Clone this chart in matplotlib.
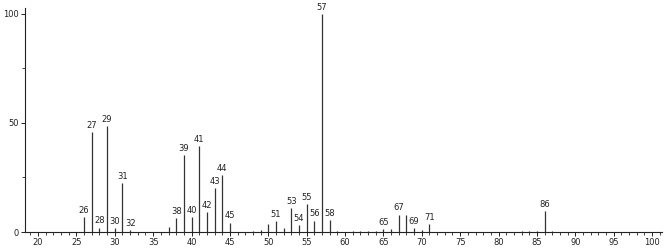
import matplotlib.pyplot as plt
from matplotlib.ticker import MultipleLocator

# m/z values and relative intensities
mz = [26, 27, 28, 29, 30, 31, 32, 37, 38, 39, 40, 41, 42, 43, 44, 45,
      48, 49, 50, 51, 52, 53, 54, 55, 56, 57, 58, 59, 61, 62, 63, 64,
      65, 66, 67, 68, 69, 70, 71, 83, 84, 85, 86, 87]
intensity = [6.7, 45.7, 2.0, 48.6, 1.8, 22.3, 0.9, 2.3, 6.3, 35.3, 6.7, 39.4, 9.0, 20.0, 26.0, 4.3,
             0.5, 1.0, 3.7, 5.0, 1.8, 10.9, 3.0, 12.8, 5.2, 100.0, 5.5, 0.6, 0.4, 0.5, 0.5, 0.5,
             1.5, 1.3, 8.0, 7.6, 1.7, 0.7, 3.7, 0.3, 0.3, 0.4, 9.6, 0.5]
labeled = [26, 27, 28, 29, 30, 31, 32, 38, 39, 40, 41, 42, 43, 44, 45,
           51, 53, 54, 55, 56, 57, 58, 65, 67, 69, 71, 86]

fig = plt.figure(figsize=(6.67, 2.49), dpi=100)
ax = fig.add_axes([25 / 667, 17 / 249, 637 / 667, 224 / 249])

ax.vlines(mz, 0, intensity, colors="#333333", linewidth=0.9)
for m, v in zip(mz, intensity):
    if m in labeled:
        ax.text(m, v + 1.0, str(m), ha="center", va="bottom", fontsize=6, color="#222222")

ax.set_xlim(18.3, 101.3)
ax.set_ylim(0, 102.7)
ax.xaxis.set_major_locator(MultipleLocator(5))
ax.xaxis.set_minor_locator(MultipleLocator(1))
ax.yaxis.set_major_locator(MultipleLocator(50))
ax.yaxis.set_minor_locator(MultipleLocator(25))
ax.tick_params(axis="both", which="major", labelsize=6, length=3, width=0.7, pad=1.5, colors="#222222")
ax.tick_params(axis="both", which="minor", length=2, width=0.6, colors="#222222")
for side in ["top", "right"]:
    ax.spines[side].set_visible(False)
for side in ["left", "bottom"]:
    ax.spines[side].set_linewidth(0.8)
    ax.spines[side].set_color("#222222")

fig.savefig("out.png", dpi=100)
